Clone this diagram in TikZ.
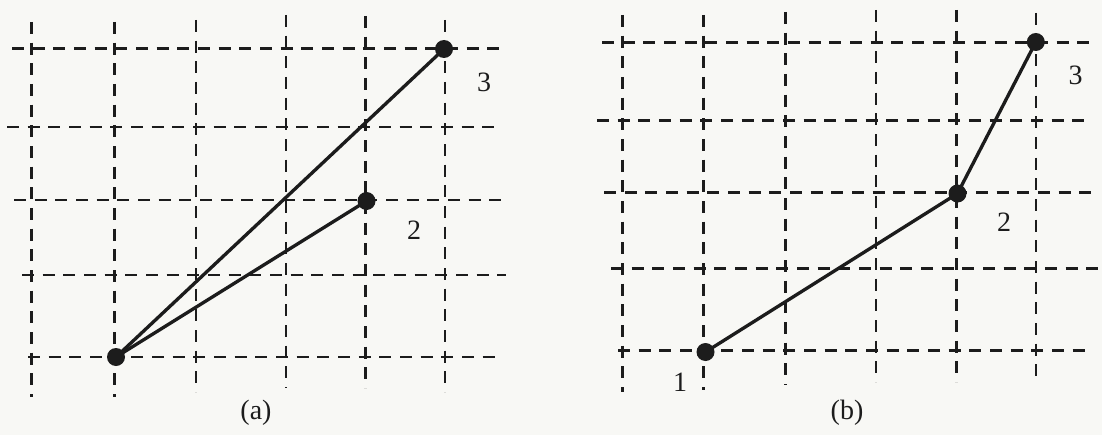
\documentclass[tikz,border=0pt]{standalone}
\usepackage{fontspec}
\setmainfont{Liberation Serif}
\definecolor{ink}{RGB}{28,28,28}
\definecolor{paper}{RGB}{248,248,245}
\tikzset{
  gridline/.style={draw=ink, line width=2.1pt, dash pattern=on 9pt off 6.5pt},
  conn/.style={draw=ink, line width=2.5pt},
  dot/.style={circle, fill=ink, inner sep=0pt, minimum size=13.5pt},
  lbl/.style={font=\fontsize{21}{24}\selectfont, text=ink, inner sep=0pt},
}
\begin{document}
\begin{tikzpicture}[x=0.75pt,y=-0.75pt]
\fill[paper] (0,0) rectangle (1102,435);
\useasboundingbox (0,0) rectangle (1102,435);
% ---- panel (a) grid ----
\draw[gridline] (12,48.5) -- (502,48.5);
\draw[gridline] (7,127) -- (499,127);
\draw[gridline] (14,200) -- (504,200);
\draw[gridline] (22,275) -- (506,275);
\draw[gridline] (28,357) -- (497,357);
\draw[gridline] (31.6,22) -- (31.6,397);
\draw[gridline] (114.5,22) -- (114.5,397);
\draw[gridline] (196,20) -- (196,392);
\draw[gridline] (286,15) -- (286,388);
\draw[gridline] (365.5,16) -- (365.5,388);
\draw[gridline] (445,20) -- (445,392);
% ---- panel (b) grid ----
\draw[gridline] (602,42.7) -- (1096,42.7);
\draw[gridline] (597,120.7) -- (1092,120.7);
\draw[gridline] (604,192.7) -- (1096,192.7);
\draw[gridline] (611,268.3) -- (1099,268.3);
\draw[gridline] (618,350.7) -- (1089,350.7);
\draw[gridline] (622.3,15) -- (622.3,392);
\draw[gridline] (703.8,15) -- (703.8,390);
\draw[gridline] (785.4,12) -- (785.4,385);
\draw[gridline] (876,10) -- (876,382);
\draw[gridline] (956.1,10) -- (956.1,382);
\draw[gridline] (1035.9,13) -- (1035.9,383);
% ---- panel (a) points ----
\node[dot] (a1) at (116,357) {};
\node[dot] (a2) at (366.5,201) {};
\node[dot] (a3) at (444,49) {};
\draw[conn] (a1.center) -- (a3.center);
\draw[conn] (a1.center) -- (a2.center);
\node[lbl] (la2) at (414,230) {2};
\node[lbl] (la3) at (484,82) {3};
\node[lbl] (capa) at (256,413) {(a)};
% ---- panel (b) points ----
\node[dot] (b1) at (705.5,352) {};
\node[dot] (b2) at (957.5,193.5) {};
\node[dot] (b3) at (1035.8,42) {};
\draw[conn] (b1.center) -- (b2.center) -- (b3.center);
\node[lbl] (lb1) at (680,382) {1};
\node[lbl] (lb2) at (1004,222) {2};
\node[lbl] (lb3) at (1075.5,75) {3};
\node[lbl] (capb) at (847,413) {(b)};
\end{tikzpicture}
\end{document}
